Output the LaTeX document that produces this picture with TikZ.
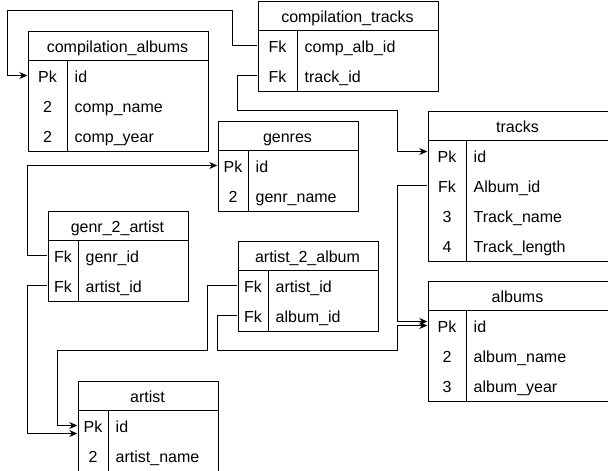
\documentclass[tikz,border=0pt]{standalone}
\usepackage{fontspec}
\setmainfont{Liberation Sans}
\usetikzlibrary{arrows.meta}
\tikzset{
 tbl/.style={draw, line width=1pt, inner sep=0pt},
 tline/.style={line width=1pt},
 txt/.style={inner sep=0pt, text height=15.5pt, text depth=2.5pt, font=\fontsize{16}{19}\selectfont},
 ttitle/.style={txt},
 keycell/.style={txt, minimum height=30pt},
 fldcell/.style={txt, anchor=west},
 conn/.style={line width=1pt, -{Stealth[length=8pt,width=7pt]}},
}
\newcommand\ertable[7]{%
 \def\tn{#1}\def\tx{#2}\def\ty{#3}\def\tk{#5}%
 \node[tbl, anchor=north west, minimum width={#4*1pt}, minimum height={30pt*(#6+1)}] (#1) at (#2,#3) {};
 \draw[tline] ({#2},{#3+30}) -- ({#2+#4},{#3+30});
 \draw[tline] ({#2+#5},{#3+30}) -- ({#2+#5},{#3+30*(#6+1)});
 \node[ttitle] (#1-t) at ({#2+#4/2},{#3+15}) {#7};
}
\newcommand\errow[3]{%
 \node[keycell, minimum width={\tk*1pt}] (\tn-k#1) at ({\tx+\tk/2},{\ty+15+30*#1}) {#2};
 \node[fldcell] (\tn-f#1) at ({\tx+\tk+7},{\ty+15+30*#1}) {#3};
}
\begin{document}
\begin{tikzpicture}[x=1pt,y=-1pt]
\useasboundingbox (0,0) rectangle (608,471);

\ertable{ca}{27.5}{30.5}{180}{40}{3}{compilation\_albums}
\errow{1}{Pk}{id}
\errow{2}{2}{comp\_name}
\errow{3}{2}{comp\_year}

\ertable{ct}{257.5}{0.5}{180}{40}{2}{compilation\_tracks}
\errow{1}{Fk}{comp\_alb\_id}
\errow{2}{Fk}{track\_id}

\ertable{tr}{427.5}{110.5}{180}{39}{4}{tracks}
\errow{1}{Pk}{id}
\errow{2}{Fk}{Album\_id}
\errow{3}{3}{Track\_name}
\errow{4}{4}{Track\_length}

\ertable{ge}{217.5}{120.5}{140}{31}{2}{genres}
\errow{1}{Pk}{id}
\errow{2}{2}{genr\_name}

\ertable{ga}{47.5}{210.5}{140}{31}{2}{genr\_2\_artist}
\errow{1}{Fk}{genr\_id}
\errow{2}{Fk}{artist\_id}

\ertable{aa}{237.5}{240.5}{140}{31}{2}{artist\_2\_album}
\errow{1}{Fk}{artist\_id}
\errow{2}{Fk}{album\_id}

\ertable{al}{427.5}{280.5}{180}{39}{3}{albums}
\errow{1}{Pk}{id}
\errow{2}{2}{album\_name}
\errow{3}{3}{album\_year}

\ertable{ar}{77.5}{380.5}{140}{31}{2}{artist}
\errow{1}{Pk}{id}
\errow{2}{2}{artist\_name}

\draw[conn] (ct-k1.west) -| (232.5,10.5) -| ([xshift=-20pt]ca-k1.west) -- (ca-k1.west);
\draw[conn] (ct-k2.west) -| (237.5,110.5) -| ([xshift=-30pt,yshift=4pt]tr-k1.west) -- ([yshift=4pt]tr-k1.west);
\draw[conn] (ga-k1.west) -- ++(-20,0) |- (ge-k1.west);
\draw[conn] (ga-k2.west) -- ++(-20,0) |- ([yshift=-8pt]ar-k1.west);
\draw[conn] (aa-k1.west) -| (207.5,350.5) -| ([xshift=-20pt]ar-k1.west) -- (ar-k1.west);
\draw[conn] (aa-k2.west) -| (217.5,350.5) -| ([xshift=-30pt]al-k1.west) -- (al-k1.west);
\draw[conn] (tr-k2.west) -| ([xshift=-30pt,yshift=4pt]al-k1.west) -- ([yshift=4pt]al-k1.west);
\end{tikzpicture}
\end{document}
